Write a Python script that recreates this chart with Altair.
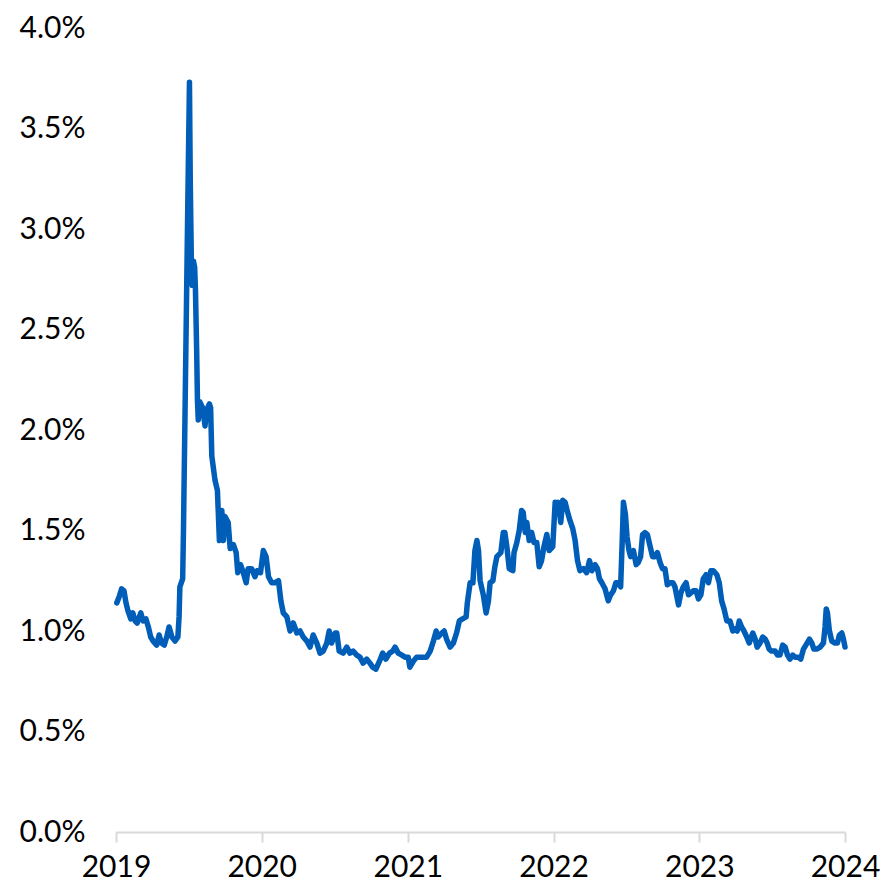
import altair as alt
import pandas as pd

# days since 2019-01-01
day_offsets = [
    2, 8, 14, 20, 25, 30, 37, 42, 48, 53, 62, 68, 75, 81, 87, 93, 102, 108, 114, 121,
    127, 133, 140, 148, 155, 158, 160, 167, 169, 172, 175, 179, 182, 184, 186, 189, 191, 194, 197, 199,
    202, 204, 206, 210, 217, 223, 227, 234, 237, 240, 248, 254, 259, 265, 269, 273, 281, 286, 294, 301,
    305, 312, 319, 326, 331, 340, 348, 354, 362, 369, 376, 382, 390, 398, 407, 413, 419, 428, 436, 444,
    453, 461, 469, 478, 486, 494, 503, 511, 519, 528, 534, 540, 549, 553, 559, 569, 578, 586, 594, 603,
    611, 619, 628, 636, 643, 651, 660, 668, 676, 685, 693, 699, 707, 716, 724, 732, 736, 745, 753, 762,
    770, 778, 787, 795, 802, 807, 816, 822, 828, 837, 845, 853, 860, 868, 877, 880, 887, 894, 899, 904,
    908, 912, 920, 927, 933, 937, 944, 949, 954, 964, 970, 974, 979, 985, 994, 997, 1004, 1010, 1016, 1020,
    1025, 1029, 1035, 1041, 1047, 1054, 1060, 1066, 1072, 1079, 1085, 1094, 1100, 1104, 1108, 1114, 1119, 1125, 1130, 1137,
    1144, 1150, 1156, 1162, 1171, 1179, 1186, 1192, 1200, 1206, 1211, 1217, 1225, 1233, 1239, 1246, 1252, 1258, 1264, 1268,
    1271, 1276, 1280, 1285, 1289, 1296, 1303, 1308, 1314, 1319, 1325, 1331, 1338, 1344, 1350, 1356, 1363, 1369, 1375, 1381,
    1388, 1395, 1400, 1409, 1415, 1421, 1428, 1434, 1440, 1446, 1453, 1459, 1465, 1471, 1478, 1484, 1490, 1496, 1505, 1511,
    1517, 1523, 1530, 1538, 1545, 1551, 1556, 1561, 1567, 1573, 1580, 1586, 1595, 1601, 1606, 1613, 1620, 1626, 1631, 1636,
    1642, 1651, 1657, 1663, 1670, 1676, 1682, 1688, 1695, 1701, 1709, 1715, 1722, 1728, 1737, 1743, 1748, 1755, 1764, 1772,
    1776, 1779, 1782, 1787, 1793, 1801, 1807, 1812, 1818, 1822, 1826,
]

# rate in percent
rate_pct = [
    1.14, 1.17, 1.21, 1.20, 1.14, 1.10, 1.06, 1.09, 1.05, 1.04, 1.09, 1.05, 1.06, 1.02, 0.97, 0.95, 0.93, 0.98, 0.94, 0.93,
    0.97, 1.02, 0.97, 0.95, 0.97, 1.07, 1.22, 1.26, 1.50, 1.95, 2.40, 3.00, 3.44, 3.73, 3.24, 2.80, 2.72, 2.84, 2.81, 2.70,
    2.40, 2.15, 2.05, 2.14, 2.11, 2.02, 2.10, 2.13, 2.11, 1.87, 1.75, 1.70, 1.45, 1.60, 1.45, 1.57, 1.54, 1.41, 1.43, 1.39,
    1.29, 1.33, 1.29, 1.24, 1.31, 1.31, 1.27, 1.30, 1.29, 1.40, 1.37, 1.27, 1.24, 1.24, 1.25, 1.15, 1.09, 1.07, 1.00, 1.04,
    0.99, 1.00, 0.97, 0.95, 0.92, 0.98, 0.94, 0.89, 0.90, 0.94, 1.00, 0.94, 0.99, 0.99, 0.90, 0.89, 0.92, 0.89, 0.90, 0.88,
    0.87, 0.84, 0.86, 0.84, 0.82, 0.81, 0.85, 0.89, 0.86, 0.89, 0.90, 0.92, 0.89, 0.88, 0.87, 0.87, 0.82, 0.85, 0.87, 0.87,
    0.87, 0.87, 0.90, 0.95, 1.00, 0.97, 0.99, 1.00, 0.96, 0.92, 0.94, 0.99, 1.05, 1.06, 1.07, 1.14, 1.24, 1.24, 1.40, 1.45,
    1.40, 1.25, 1.18, 1.09, 1.15, 1.24, 1.25, 1.32, 1.37, 1.39, 1.49, 1.49, 1.42, 1.31, 1.30, 1.39, 1.44, 1.50, 1.60, 1.59,
    1.49, 1.54, 1.45, 1.49, 1.44, 1.44, 1.32, 1.35, 1.42, 1.48, 1.40, 1.42, 1.64, 1.60, 1.64, 1.54, 1.65, 1.64, 1.60, 1.55,
    1.51, 1.45, 1.35, 1.30, 1.31, 1.29, 1.35, 1.30, 1.33, 1.31, 1.26, 1.24, 1.21, 1.15, 1.18, 1.20, 1.24, 1.24, 1.22, 1.45,
    1.64, 1.58, 1.47, 1.40, 1.37, 1.40, 1.33, 1.34, 1.37, 1.48, 1.49, 1.48, 1.42, 1.37, 1.37, 1.39, 1.34, 1.31, 1.31, 1.23,
    1.24, 1.24, 1.22, 1.13, 1.19, 1.22, 1.24, 1.18, 1.19, 1.20, 1.20, 1.16, 1.18, 1.26, 1.28, 1.24, 1.30, 1.30, 1.28, 1.24,
    1.15, 1.11, 1.05, 1.05, 1.00, 1.01, 1.00, 1.05, 1.02, 1.00, 0.97, 0.94, 0.99, 0.96, 0.92, 0.94, 0.97, 0.96, 0.94, 0.91,
    0.90, 0.90, 0.88, 0.88, 0.93, 0.92, 0.88, 0.86, 0.88, 0.87, 0.87, 0.86, 0.91, 0.93, 0.96, 0.94, 0.91, 0.91, 0.92, 0.94,
    1.02, 1.11, 1.09, 1.00, 0.95, 0.94, 0.94, 0.98, 0.99, 0.96, 0.92,
]

year_ticks = [2019, 2020, 2021, 2022, 2023, 2024]
y_ticks = [0.0, 0.005, 0.01, 0.015, 0.02, 0.025, 0.03, 0.035, 0.04]

df = pd.DataFrame({
    "date": pd.Timestamp("2019-01-01") + pd.to_timedelta(day_offsets, unit="D"),
    "rate": [v / 100 for v in rate_pct],
})

FONT = "Lato"

chart = (
    alt.Chart(df)
    .mark_line(color="#005EB8", strokeWidth=5.5, strokeCap="round", strokeJoin="round")
    .encode(
        x=alt.X(
            "date:T",
            scale=alt.Scale(domain=[alt.DateTime(year=2019, month=1, date=1),
                                    alt.DateTime(year=2024, month=1, date=1)]),
            axis=alt.Axis(
                values=[alt.DateTime(year=y, month=1, date=1) for y in year_ticks],
                format="%Y", title=None, grid=False,
                domainColor="#D9D9D9", domainWidth=2,
                tickColor="#D9D9D9", tickWidth=2, tickSize=10,
                labelFont=FONT, labelFontSize=30, labelColor="#000000",
                labelPadding=10, labelFlush=False, labelOverlap=False,
            ),
        ),
        y=alt.Y(
            "rate:Q",
            scale=alt.Scale(domain=[0, 0.04], nice=False),
            axis=alt.Axis(
                values=y_ticks, format=".1%", title=None, grid=False,
                domain=False, ticks=False,
                labelFont=FONT, labelFontSize=30, labelColor="#000000",
                labelPadding=31, labelOverlap=False,
            ),
        ),
    )
    .properties(
        width=729, height=804,
        autosize=alt.AutoSizeParams(type="none"),
        padding={"left": 116, "top": 28, "right": 39, "bottom": 55},
    )
    .configure_view(stroke=None)
)

chart.save("out.html", embed_options={"renderer": "svg", "actions": False})
